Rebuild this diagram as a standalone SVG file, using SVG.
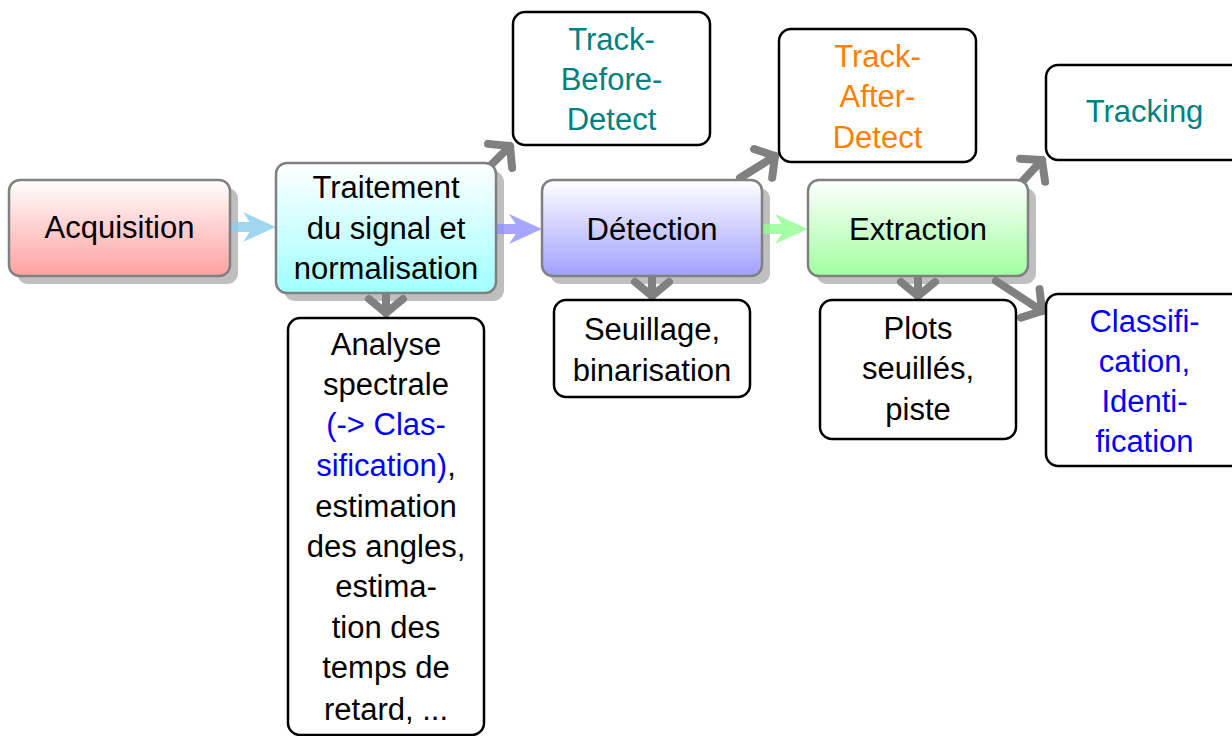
<svg xmlns="http://www.w3.org/2000/svg" width="1232" height="736" viewBox="0 0 1232 736">
<defs>
<linearGradient id="gRed" x1="0" y1="0" x2="0" y2="1"><stop offset="0" stop-color="#ffffff"/><stop offset="1" stop-color="#ffa0a0"/></linearGradient>
<linearGradient id="gCyan" x1="0" y1="0" x2="0" y2="1"><stop offset="0" stop-color="#ffffff"/><stop offset="1" stop-color="#a0ffff"/></linearGradient>
<linearGradient id="gBlue" x1="0" y1="0" x2="0" y2="1"><stop offset="0" stop-color="#ffffff"/><stop offset="1" stop-color="#a0a0ff"/></linearGradient>
<linearGradient id="gGreen" x1="0" y1="0" x2="0" y2="1"><stop offset="0" stop-color="#ffffff"/><stop offset="1" stop-color="#a0ffa0"/></linearGradient>
<marker id="chev" viewBox="-30 -30 40 60" markerUnits="userSpaceOnUse" markerWidth="40" markerHeight="60" refX="0" refY="0" orient="auto" overflow="visible">
<path d="M -14,-17 L 0,0 L -14,17" fill="none" stroke="#808080" stroke-width="8" stroke-linecap="round" stroke-linejoin="round"/>
</marker>
</defs>
<style>
text{font-family:"Liberation Sans",Arial,sans-serif;font-size:31px;text-anchor:middle;fill:#000}
.main{stroke:#808080;stroke-width:2.5}
.shadow{fill:#bfbfbf}
.plain{fill:#fff;stroke:#000;stroke-width:2.5}
.gray{fill:none;stroke:#808080;stroke-width:8;stroke-linecap:round;marker-end:url(#chev)}
.teal{fill:#008080}
.orange{fill:#ff8000}
.blue{fill:#0000ff}
</style>

<g id="shadows">
<rect class="shadow" x="17" y="188" width="221" height="96" rx="11"/>
<rect class="shadow" x="284" y="171" width="220" height="130" rx="11"/>
<rect class="shadow" x="550" y="188" width="220" height="96" rx="11"/>
<rect class="shadow" x="816" y="188" width="220" height="96" rx="11"/>
</g>

<g id="connectors">
<g opacity="0.8">
<rect x="226" y="222" width="30" height="10" fill="#87ceeb"/>
<path d="M276,227 L243,212 L253,227 L243,242 Z" fill="#87ceeb"/>
<rect x="492" y="224" width="30" height="10" fill="#9090ff"/>
<path d="M542,229 L509,214 L519,229 L509,244 Z" fill="#9090ff"/>
<rect x="758" y="224" width="30" height="10" fill="#90ff90"/>
<path d="M808,229 L775,214 L785,229 L775,244 Z" fill="#90ff90"/>
</g>
<path class="gray" d="M490,166 L510,146"/>
<path class="gray" d="M386,290 L386,313"/>
<path class="gray" d="M652,274 L652,296"/>
<path class="gray" d="M740,178 L775,156"/>
<path class="gray" d="M918,274 L918,296"/>
<path class="gray" d="M1020,184 L1042,160"/>
<path class="gray" d="M996,281 L1042,311"/>
</g>

<g id="acquisition">
<rect class="main" x="9" y="180" width="221" height="96" rx="11" fill="url(#gRed)"/>
<text x="119.5" y="238">Acquisition</text>
</g>

<g id="traitement">
<rect class="main" x="276" y="163" width="220" height="130" rx="11" fill="url(#gCyan)"/>
<text x="386" y="198">Traitement</text>
<text x="386" y="239">du signal et</text>
<text x="386" y="279">normalisation</text>
</g>

<g id="detection">
<rect class="main" x="542" y="180" width="220" height="96" rx="11" fill="url(#gBlue)"/>
<text x="652" y="240">Détection</text>
</g>

<g id="extraction">
<rect class="main" x="808" y="180" width="220" height="96" rx="11" fill="url(#gGreen)"/>
<text x="918" y="240">Extraction</text>
</g>

<g id="tbd">
<rect class="plain" x="513" y="12" width="197" height="133" rx="12"/>
<text class="teal" x="611.5" y="50">Track-</text>
<text class="teal" x="611.5" y="90">Before-</text>
<text class="teal" x="611.5" y="130">Detect</text>
</g>

<g id="tad">
<rect class="plain" x="779" y="29" width="197" height="133" rx="12"/>
<text class="orange" x="877.5" y="67">Track-</text>
<text class="orange" x="877.5" y="107">After-</text>
<text class="orange" x="877.5" y="148">Detect</text>
</g>

<g id="tracking">
<rect class="plain" x="1046" y="65" width="197" height="95" rx="12"/>
<text class="teal" x="1144.5" y="122">Tracking</text>
</g>

<g id="classification">
<rect class="plain" x="1046" y="294" width="197" height="172" rx="12"/>
<text class="blue" x="1144.5" y="332">Classifi-</text>
<text class="blue" x="1144.5" y="372">cation,</text>
<text class="blue" x="1144.5" y="412">Identi-</text>
<text class="blue" x="1144.5" y="452">fication</text>
</g>

<g id="analyse">
<rect class="plain" x="288" y="318" width="196" height="417" rx="12"/>
<text x="386" y="355">Analyse</text>
<text x="386" y="395">spectrale</text>
<text class="blue" x="386" y="435">(-&gt; Clas-</text>
<text x="386" y="476"><tspan class="blue">sification)</tspan>,</text>
<text x="386" y="517">estimation</text>
<text x="386" y="557">des angles,</text>
<text x="386" y="597">estima-</text>
<text x="386" y="638">tion des</text>
<text x="386" y="678">temps de</text>
<text x="386" y="720">retard, ...</text>
</g>

<g id="seuillage">
<rect class="plain" x="554" y="300" width="196" height="97" rx="12"/>
<text x="652" y="340">Seuillage,</text>
<text x="652" y="381">binarisation</text>
</g>

<g id="plots">
<rect class="plain" x="820" y="300" width="196" height="139" rx="12"/>
<text x="918" y="339">Plots</text>
<text x="918" y="379">seuillés,</text>
<text x="918" y="420">piste</text>
</g>
</svg>
